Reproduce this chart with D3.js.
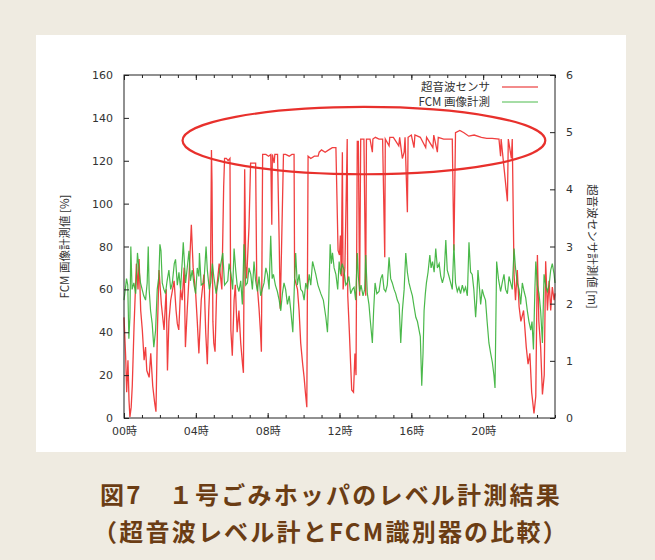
<!DOCTYPE html>
<html>
<style>
    body {
      margin: 0;
      overflow: hidden;
      background: #efebe1;
    }
    .tick text {
      font-family: "DejaVu Sans", "Noto Sans CJK JP", sans-serif;
      font-size: 11px;
      fill: #333;
    }
    .tick line {
      stroke: #222;
    }
    .axis-title, .legend text {
      font-family: "Noto Sans CJK JP", sans-serif;
      font-size: 11.5px;
      fill: #333;
    }
    .caption {
      font-family: "Noto Sans CJK JP", sans-serif;
      font-size: 24px;
      font-weight: bold;
      letter-spacing: 2.2px;
      fill: #6b3d14;
    }
</style>
<script src="https://cdn.jsdelivr.net/npm/d3@7"></script>
<svg></svg>
<script>
// hours of the day, ultrasonic sensor level [m] (right axis)
var sensorHours = [0, 0.09, 0.15, 0.22, 0.28, 0.33, 0.4, 0.46, 0.56, 0.69, 0.78, 0.84, 0.93, 1.02, 1.12, 1.2,
  1.27, 1.4, 1.49, 1.6, 1.71, 1.78, 1.86, 1.95, 2.08, 2.23, 2.35, 2.42, 2.5, 2.6, 2.79, 2.9, 2.97, 3.05,
  3.15, 3.24, 3.35, 3.42, 3.52, 3.61, 3.75, 3.85, 3.99, 4.08, 4.17, 4.3, 4.45, 4.55, 4.64, 4.72, 4.82,
  4.87, 4.9, 4.95, 5.0, 5.07, 5.16, 5.3, 5.45, 5.55, 5.6, 5.7, 5.8, 5.9, 5.95, 6.03, 6.13, 6.2, 6.3, 6.4,
  6.5, 6.6, 6.65, 6.72, 6.78, 6.83, 6.96, 7.05, 7.2, 7.33, 7.39, 7.52, 7.6, 7.65, 7.72, 7.9, 8.05, 8.17,
  8.23, 8.26, 8.36, 8.4, 8.55, 8.64, 8.7, 8.77, 8.88, 9.0, 9.2, 9.35, 9.47, 9.5, 9.66, 9.75, 9.84, 9.95,
  10.03, 10.1, 10.18, 10.25, 10.4, 10.6, 10.81, 10.87, 11.0, 11.2, 11.4, 11.6, 11.8, 11.92, 12.0, 12.05,
  12.1, 12.16, 12.2, 12.3, 12.43, 12.46, 12.55, 12.62, 12.68, 12.78, 12.86, 12.92, 12.99, 13.05, 13.12,
  13.18, 13.36, 13.46, 13.5, 13.7, 13.83, 13.86, 14.0, 14.2, 14.4, 14.52, 14.55, 14.76, 14.8, 15.0, 15.3,
  15.35, 15.5, 15.6, 15.65, 15.78, 15.82, 16.0, 16.15, 16.2, 16.5, 16.8, 16.85, 17.2, 17.25, 17.45, 17.5,
  17.8, 18.0, 18.28, 18.37, 18.46, 18.7, 18.93, 19.2, 19.5, 19.9, 20.2, 20.5, 20.88, 20.97, 21.0, 21.35,
  21.4, 21.57, 21.62, 21.72, 21.8, 21.9, 22.0, 22.1, 22.25, 22.4, 22.5, 22.6, 22.7, 22.83, 22.93, 23.02,
  23.1, 23.2, 23.3, 23.4, 23.48, 23.58, 23.67, 23.76, 23.85, 23.95, 24.0];

var sensorLevel = [1.76, 1.09, 0.45, 1.01, 0.30, 0.02, 0.19, 0.56, 1.61, 2.70, 2.25, 2.78, 1.88, 1.54, 1.01, 1.24,
  0.83, 0.71, 1.13, 0.56, 0.26, 0.11, 1.54, 2.59, 1.99, 1.54, 2.25, 0.83, 1.69, 2.06, 2.40, 1.88, 1.65, 1.54,
  2.25, 2.06, 2.63, 1.24, 1.88, 2.40, 3.38, 2.63, 2.18, 1.69, 1.13, 2.06, 2.51, 1.50, 0.94, 1.88, 2.63,
  4.69, 4.13, 1.69, 1.31, 1.16, 2.25, 2.70, 2.25, 4.05, 4.54, 4.54, 4.50, 4.54, 1.54, 1.09, 2.06, 2.33, 1.50, 1.88,
  1.31, 0.94, 0.79, 4.35, 2.63, 2.44, 3.34, 4.46, 4.46, 4.46, 2.44, 1.91, 1.50, 1.16, 4.61, 4.61, 4.58, 4.61,
  3.38, 4.61, 4.46, 4.61, 4.61, 3.11, 1.91, 2.93, 4.61, 4.61, 4.58, 4.61, 4.61, 2.44, 2.25, 1.88, 1.31, 0.94,
  0.71, 0.45, 0.19, 4.58, 4.54, 4.58, 4.58, 4.65, 4.69, 4.65, 4.69, 4.73, 4.73, 2.93, 2.85, 3.19,
  2.48, 4.65, 2.25, 2.63, 4.88, 2.14, 1.50, 0.94, 0.49, 0.45, 1.13, 0.75, 4.84, 4.84, 2.14,
  4.88, 4.88, 2.14, 4.88, 4.88, 4.65, 4.88, 4.91, 4.88, 4.88, 2.81, 4.88, 4.76, 4.91, 4.91, 4.76,
  4.91, 4.54, 4.65, 4.91, 3.60, 4.91, 4.95, 4.73, 4.95, 4.91, 4.73, 4.91, 4.73, 4.95, 4.65, 4.91,
  4.88, 4.88, 4.88, 2.93, 4.99, 5.03, 4.99, 4.93, 4.95, 4.91, 4.89, 4.89, 4.88, 4.58, 4.88, 3.79,
  4.88, 4.54, 4.88, 2.51, 2.06, 2.59, 1.95, 1.69, 1.88, 1.24, 0.94, 1.13, 0.45, 0.08, 0.38, 2.85,
  1.69, 1.24, 0.41, 0.75, 2.74, 1.88, 2.40, 1.88, 2.29, 2.06, 2.18];

// hours of the day, FCM image measurement [%] (left axis)
var fcmHours = [0, 0.1, 0.14, 0.21, 0.27, 0.33, 0.38, 0.45, 0.55, 0.65, 0.75, 0.83, 0.92, 1.01, 1.1, 1.2, 1.29,
  1.35, 1.4, 1.48, 1.57, 1.66, 1.76, 1.85, 1.94, 2.0, 2.06, 2.13, 2.22, 2.31, 2.4, 2.5, 2.6, 2.69, 2.8, 2.87,
  2.97, 3.06, 3.15, 3.25, 3.3, 3.43, 3.52, 3.62, 3.7, 3.8, 3.9, 3.99, 4.08, 4.17, 4.2, 4.3, 4.45, 4.57, 4.64,
  4.75, 4.83, 4.92, 5.0, 5.13, 5.25, 5.35, 5.5, 5.6, 5.78, 5.85, 5.96, 6.05, 6.13, 6.22, 6.3, 6.4, 6.5, 6.59,
  6.68, 6.78, 6.87, 6.96, 7.06, 7.15, 7.24, 7.33, 7.43, 7.52, 7.61, 7.7, 7.8, 7.9, 7.99, 8.08, 8.17, 8.25,
  8.32, 8.43, 8.54, 8.64, 8.73, 8.82, 8.91, 9.0, 9.1, 9.2, 9.29, 9.4, 9.48, 9.56, 9.65, 9.75, 9.84, 9.94,
  10.03, 10.12, 10.22, 10.31, 10.4, 10.5, 10.59, 10.68, 10.8, 10.96, 11.1, 11.24, 11.33, 11.4, 11.48, 11.55,
  11.61, 11.7, 11.8, 11.9, 11.98, 12.06, 12.15, 12.25, 12.35, 12.43, 12.52, 12.62, 12.72, 12.81, 12.9,
  12.99, 13.05, 13.12, 13.2, 13.31, 13.4, 13.46, 13.55, 13.64, 13.72, 13.83, 13.9, 13.98, 14.08, 14.2,
  14.3, 14.39, 14.48, 14.57, 14.66, 14.76, 14.85, 14.94, 15.04, 15.13, 15.22, 15.32, 15.41, 15.5, 15.6,
  15.69, 15.78, 15.87, 15.96, 16.06, 16.15, 16.25, 16.34, 16.43, 16.5, 16.58, 16.65, 16.71, 16.78, 16.84,
  16.93, 17.03, 17.1, 17.18, 17.27, 17.36, 17.45, 17.55, 17.64, 17.73, 17.82, 17.92, 18.0, 18.1, 18.19,
  18.28, 18.37, 18.46, 18.56, 18.65, 18.74, 18.84, 18.93, 19.02, 19.12, 19.21, 19.3, 19.39, 19.48, 19.58,
  19.64, 19.71, 19.8, 19.86, 19.95, 20.04, 20.13, 20.22, 20.32, 20.42, 20.51, 20.6, 20.66, 20.75, 20.85,
  20.97, 21.06, 21.16, 21.25, 21.35, 21.44, 21.53, 21.62, 21.72, 21.8, 21.9, 22.0, 22.09, 22.18, 22.28,
  22.37, 22.46, 22.55, 22.65, 22.72, 22.8, 22.88, 22.93, 23.02, 23.11, 23.2, 23.3, 23.39, 23.48, 23.58,
  23.67, 23.76, 23.85, 23.95, 24.0];

var fcmLevel = [55, 62, 65, 62, 37, 47, 80, 60, 63, 58, 77, 70, 63, 60, 57, 55, 63,
  80, 60, 50, 44, 33, 41, 60, 66, 81, 78, 63, 60, 58, 64, 69, 60, 63, 72, 74,
  62, 68, 60, 74, 82, 63, 70, 78, 64, 69, 62, 58, 70, 66, 77, 62, 63, 80, 69,
  60, 63, 72, 66, 58, 64, 70, 77, 62, 64, 72, 67, 60, 79, 69, 62, 59, 64, 53,
  81, 62, 63, 70, 67, 60, 73, 64, 59, 66, 57, 60, 63, 70, 67, 60, 85, 65,
  67, 62, 59, 55, 50, 58, 63, 60, 53, 57, 50, 40, 60, 77, 62, 67, 60, 59,
  55, 63, 60, 67, 62, 73, 70, 67, 62, 58, 55, 47, 40, 55, 81, 72,
  77, 70, 67, 60, 73, 67, 72, 69, 62, 63, 66, 58, 60, 61, 55,
  77, 66, 59, 62, 57, 60, 76, 58, 53, 45, 35, 50, 63, 58, 59,
  65, 67, 60, 59, 62, 75, 65, 63, 60, 58, 55, 53, 35, 50, 60,
  77, 68, 63, 60, 57, 52, 47, 45, 41, 38, 15, 30, 50, 58, 63,
  68, 76, 70, 73, 68, 79, 70, 72, 66, 63, 66, 83, 69, 66, 63,
  60, 81, 63, 59, 61, 58, 62, 59, 61, 57, 82, 68, 67, 60, 47,
  55, 69, 60, 53, 60, 57, 55, 45, 35, 30, 26, 20, 14, 73, 65,
  59, 63, 67, 60, 58, 66, 63, 60, 79, 70, 63, 60, 53, 63, 59,
  56, 50, 45, 41, 45, 32, 60, 73, 62, 58, 50, 35, 67, 62, 59,
  62, 69, 72, 67, 63];

var hourTicks = [0, 4, 8, 12, 16, 20];
var percentTicks = [0, 20, 40, 60, 80, 100, 120, 140, 160];
var meterTicks = [0, 1, 2, 3, 4, 5, 6];
var seriesNames = ["超音波センサ", "FCM 画像計測"];
var captionLines = ["図7　１号ごみホッパのレベル計測結果", "（超音波レベル計とFCM識別器の比較）"];

// highlighted plateau region (hour centre, % centre, half width [h], half height [%])
var highlight = {hour: 13.36, pct: 129.4, rHour: 10.1, rPct: 15.7};

var width = 655,
    height = 560;

var plot = {left: 124, right: 555, top: 75, bottom: 418};

var svg = d3.select("svg")
    .attr("width", width)
    .attr("height", height);

svg.append("rect")
    .attr("width", width)
    .attr("height", height)
    .attr("fill", "#efebe1");

svg.append("rect")
    .attr("x", 36)
    .attr("y", 35)
    .attr("width", 590)
    .attr("height", 417)
    .attr("fill", "#fff");

var x = d3.scaleLinear().domain([0, 24]).range([plot.left, plot.right]),
    yPct = d3.scaleLinear().domain([0, 160]).range([plot.bottom, plot.top]),
    yM = d3.scaleLinear().domain([0, 6]).range([plot.bottom, plot.top]);

// data lines first, frame and ticks drawn over them
var chart = svg.append("g");

chart.append("path")
    .datum(sensorHours.map(function(h, i) {return [h, sensorLevel[i]]}))
    .attr("fill", "none")
    .attr("stroke", "#ee2a2a")
    .attr("stroke-opacity", 0.9)
    .attr("stroke-width", 1.3)
    .attr("d", d3.line()
        .x(function(d) {return x(d[0])})
        .y(function(d) {return yM(d[1])}));

chart.append("path")
    .datum(fcmHours.map(function(h, i) {return [h, fcmLevel[i]]}))
    .attr("fill", "none")
    .attr("stroke", "#36b036")
    .attr("stroke-opacity", 0.9)
    .attr("stroke-width", 1.2)
    .attr("d", d3.line()
        .x(function(d) {return x(d[0])})
        .y(function(d) {return yPct(d[1])}));

svg.append("ellipse")
    .attr("cx", x(highlight.hour))
    .attr("cy", yPct(highlight.pct))
    .attr("rx", x(highlight.rHour) - x(0))
    .attr("ry", yPct(0) - yPct(highlight.rPct))
    .attr("fill", "none")
    .attr("stroke", "#e8302c")
    .attr("stroke-width", 2.2);

// axes
var hourLabel = function(d) {return (d < 10 ? "0" : "") + d + "時"};

var xMinor = d3.range(0, 25);

svg.append("g")
    .attr("transform", "translate(0," + plot.bottom + ")")
    .call(d3.axisBottom(x).tickValues(xMinor).tickSize(-3).tickSizeOuter(0).tickFormat(""));

svg.append("g")
    .attr("transform", "translate(0," + plot.bottom + ")")
    .call(d3.axisBottom(x).tickValues(hourTicks).tickSize(-5).tickSizeOuter(0).tickPadding(9)
        .tickFormat(hourLabel));

svg.append("g")
    .attr("transform", "translate(0," + plot.top + ")")
    .call(d3.axisTop(x).tickValues(xMinor).tickSize(-3).tickSizeOuter(0).tickFormat(""));

svg.append("g")
    .attr("transform", "translate(0," + plot.top + ")")
    .call(d3.axisTop(x).tickValues(hourTicks).tickSize(-5).tickSizeOuter(0).tickFormat(""));

svg.append("g")
    .attr("transform", "translate(" + plot.left + ",0)")
    .call(d3.axisLeft(yPct).tickValues(percentTicks).tickSize(-5).tickSizeOuter(0).tickPadding(11));

svg.append("g")
    .attr("transform", "translate(" + plot.right + ",0)")
    .call(d3.axisRight(yM).tickValues(meterTicks).tickSize(-5).tickSizeOuter(0).tickPadding(11)
        .tickFormat(d3.format("d")));

svg.selectAll(".domain").remove();

svg.append("rect")
    .attr("x", plot.left)
    .attr("y", plot.top)
    .attr("width", plot.right - plot.left)
    .attr("height", plot.bottom - plot.top)
    .attr("fill", "none")
    .attr("stroke", "#222")
    .attr("stroke-width", 1);

var midY = (plot.top + plot.bottom) / 2;

svg.append("text")
    .attr("class", "axis-title")
    .attr("transform", "translate(69," + midY + ") rotate(-90)")
    .attr("text-anchor", "middle")
    .text("FCM 画像計測値 [%]");

svg.append("text")
    .attr("class", "axis-title")
    .attr("transform", "translate(588," + midY + ") rotate(90)")
    .attr("text-anchor", "middle")
    .text("超音波センサ計測値 [m]");

// legend, top right inside the frame
var legend = svg.append("g")
    .attr("class", "legend");

legend.selectAll("text")
    .data(seriesNames)
  .enter().append("text")
    .attr("x", 490)
    .attr("y", function(d, i) {return 91 + i * 15})
    .attr("text-anchor", "end")
    .text(function(d) {return d});

legend.selectAll("line")
    .data(seriesNames)
  .enter().append("line")
    .attr("x1", 502)
    .attr("x2", 538)
    .attr("y1", function(d, i) {return 87 + i * 15})
    .attr("y2", function(d, i) {return 87 + i * 15})
    .attr("stroke", function(d, i) {return i ? "#4cbb4c" : "#f38b8b"})
    .attr("stroke-width", function(d, i) {return i ? 1 : 2});

// figure caption
svg.selectAll(".caption")
    .data(captionLines)
  .enter().append("text")
    .attr("class", "caption")
    .attr("x", 331)
    .attr("y", function(d, i) {return 504 + i * 37})
    .attr("text-anchor", "middle")
    .text(function(d) {return d});
</script>
</html>
